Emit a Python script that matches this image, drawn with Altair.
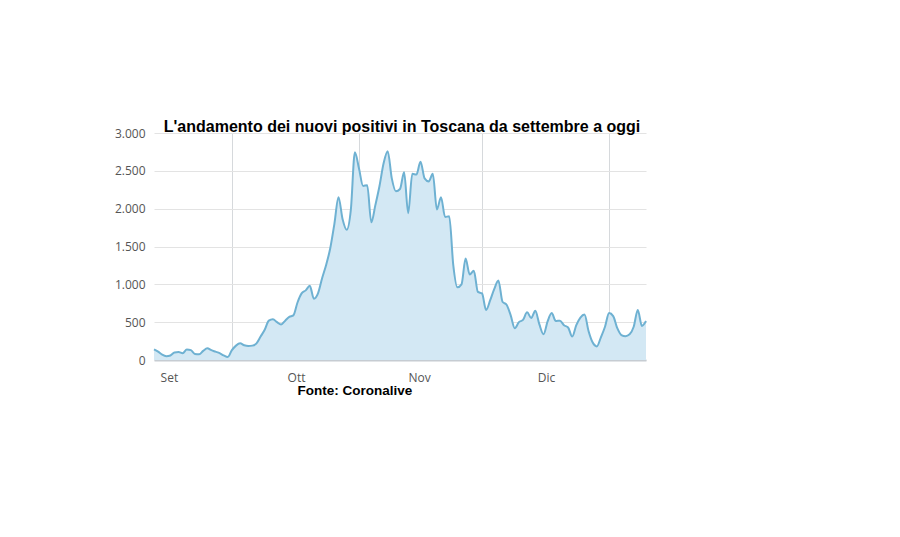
import altair as alt
import pandas as pd

# Daily new positives in Tuscany, from 12 Sep 2020
start_date = "2020-09-12"
values = [
    140, 110, 70, 50, 60, 100, 105, 90, 140, 130,
    80, 75, 120, 155, 130, 110, 90, 60, 40, 130,
    190, 220, 195, 185, 190, 220, 310, 400, 520, 540,
    500, 470, 520, 570, 590, 760, 880, 920, 980, 810,
    880, 1080, 1260, 1480, 1800, 2150, 1860, 1720, 1980, 2745,
    2530, 2300, 2310, 1820, 2050, 2300, 2600, 2760, 2400, 2230,
    2260, 2480, 1940, 2460, 2450, 2620, 2400, 2360, 2460, 1990,
    2150, 1890, 1900, 1250, 960, 1000, 1340, 1130, 1180, 900,
    880, 660, 790, 940, 1050, 770, 730, 590, 420, 500,
    530, 630, 555, 650, 470, 340, 510, 620, 515, 520,
    460, 430, 310, 460, 560, 600, 380, 230, 180, 300,
    440, 620, 580, 420, 330, 315, 340, 440, 660, 450,
    515,
]
y_ticks = [0, 500, 1000, 1500, 2000, 2500, 3000]
month_names = ["Gen", "Feb", "Mar", "Apr", "Mag", "Giu", "Lug", "Ago", "Set", "Ott", "Nov", "Dic"]
title_text = "L'andamento dei nuovi positivi in Toscana da settembre a oggi"
source_text = "Fonte: Coronalive"

dates = pd.date_range(start_date, periods=len(values), freq="D")
df = pd.DataFrame({"data": dates.strftime("%Y-%m-%d"), "positivi": values})

month_bounds = [
    alt.DateTime(year=2020, month=10, date=1, utc=True),
    alt.DateTime(year=2020, month=11, date=1, utc=True),
    alt.DateTime(year=2020, month=12, date=1, utc=True),
    alt.DateTime(year=2021, month=1, date=1, utc=True),
]
names_js = "[" + ",".join("'%s'" % m for m in month_names) + "]"

x_enc = alt.X(
    "data:T",
    scale=alt.Scale(
        type="utc",
        domain=[
            alt.DateTime(year=2020, month=9, date=12, utc=True),
            alt.DateTime(year=2021, month=1, date=10, utc=True),
        ],
        nice=False,
    ),
    axis=alt.Axis(
        values=month_bounds,
        labelExpr=names_js + "[utcmonth(datum.value - 864000000)]",
        labelOffset=-63,
        labelAngle=0,
        labelFont="Open Sans",
        labelFontSize=12,
        labelColor="#555555",
        labelPadding=12,
        labelOverlap=False,
        ticks=False,
        domain=True,
        domainColor="#c6ccd2",
        domainWidth=2,
        gridColor="#d6d9dc",
        gridWidth=1,
        title=source_text,
        titleFont="Liberation Sans",
        titleFontSize=13.5,
        titleFontWeight="bold",
        titleColor="#000000",
        titleAlign="left",
        titleAnchor="start",
        titleBaseline="alphabetic",
        titleX=143,
        titleY=34,
    ),
)
y_enc = alt.Y(
    "positivi:Q",
    scale=alt.Scale(domain=[0, 3000], nice=False),
    axis=alt.Axis(
        values=y_ticks,
        labelExpr="replace(format(datum.value, ','), ',', '.')",
        labelFont="Open Sans",
        labelFontSize=12,
        labelColor="#555555",
        labelPadding=9,
        labelOverlap=False,
        ticks=False,
        domain=False,
        gridColor="#e3e3e3",
        gridWidth=1,
        title=None,
    ),
)

base = alt.Chart(df).encode(x=x_enc, y=y_enc)
area = base.mark_area(interpolate="monotone", color="#d3e8f4", opacity=1)
line = base.mark_line(interpolate="monotone", color="#6eb1d2", strokeWidth=2)

chart = (
    alt.layer(area, line)
    .properties(
        width=492,
        height=227,
        background="#ffffff",
        title=alt.TitleParams(
            text=title_text,
            font="Liberation Sans",
            fontSize=16,
            fontWeight="bold",
            color="#000000",
            anchor="middle",
            baseline="alphabetic",
            offset=0,
            dy=21,
            dx=2,
        ),
        autosize=alt.AutoSizeParams(type="none"),
        padding={"left": 146, "top": 125, "right": 200, "bottom": 150},
    )
    .configure_view(strokeWidth=0, stroke="transparent")
)

chart.save("out.html", embed_options={"renderer": "svg", "actions": False})
